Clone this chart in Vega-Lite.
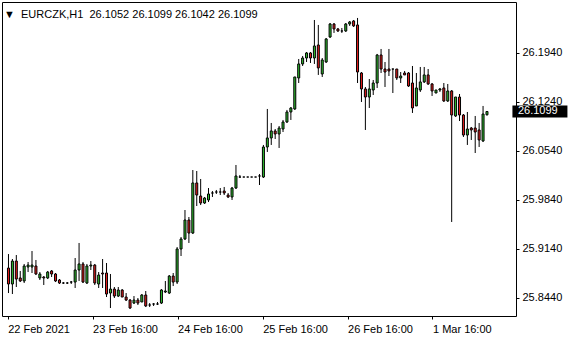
{
  "$schema": "https://vega.github.io/schema/vega-lite/v6.json",
  "width": 514,
  "height": 314,
  "autosize": {"type": "none"},
  "padding": {"left": 2, "top": 2, "right": 64, "bottom": 24},
  "background": "white",
  "config": {"view": {"stroke": "black", "strokeWidth": 1}, "font": "Liberation Sans"},
  "title": {"text": "▼\u00a0\u00a0EURCZK,H1\u00a0\u00a026.1052 26.1099 26.1042 26.1099", "anchor": "start", "frame": "group", "orient": "top", "baseline": "alphabetic", "offset": -15, "dx": 2, "dy": 12, "font": "Liberation Sans", "fontSize": 11, "fontWeight": "normal", "color": "black"},
  "datasets": {
    "bars": [
      {"i":0,"o":25.8863,"h":25.9063,"l":25.8506,"c":25.8635},
      {"i":1,"o":25.8635,"h":25.8992,"l":25.8492,"c":25.8963},
      {"i":2,"o":25.8963,"h":25.9049,"l":25.8592,"c":25.8706},
      {"i":3,"o":25.8721,"h":25.8821,"l":25.8663,"c":25.8678},
      {"i":4,"o":25.8678,"h":25.8921,"l":25.8649,"c":25.8892},
      {"i":5,"o":25.8878,"h":25.8949,"l":25.8806,"c":25.8906},
      {"i":6,"o":25.8878,"h":25.9106,"l":25.8792,"c":25.8906},
      {"i":7,"o":25.8892,"h":25.8978,"l":25.8763,"c":25.8778},
      {"i":8,"o":25.8721,"h":25.8806,"l":25.8692,"c":25.8778},
      {"i":9,"o":25.8735,"h":25.8749,"l":25.8621,"c":25.8721},
      {"i":10,"o":25.8721,"h":25.8821,"l":25.8706,"c":25.8806},
      {"i":11,"o":25.8821,"h":25.8835,"l":25.8735,"c":25.8778},
      {"i":12,"o":25.8778,"h":25.8792,"l":25.8663,"c":25.8678},
      {"i":13,"o":25.8692,"h":25.8706,"l":25.8635,"c":25.8649},
      {"i":14,"o":25.8649,"h":25.8663,"l":25.8635,"c":25.8649},
      {"i":15,"o":25.8649,"h":25.8663,"l":25.8635,"c":25.8649},
      {"i":16,"o":25.8663,"h":25.8678,"l":25.8635,"c":25.8663},
      {"i":17,"o":25.8663,"h":25.9006,"l":25.8578,"c":25.8835},
      {"i":18,"o":25.8835,"h":25.9221,"l":25.8678,"c":25.8921},
      {"i":19,"o":25.8921,"h":25.8949,"l":25.8649,"c":25.8663},
      {"i":20,"o":25.8649,"h":25.8921,"l":25.8635,"c":25.8892},
      {"i":21,"o":25.8892,"h":25.8963,"l":25.8835,"c":25.8906},
      {"i":22,"o":25.8906,"h":25.8921,"l":25.8621,"c":25.8649},
      {"i":23,"o":25.8635,"h":25.8806,"l":25.8578,"c":25.8763},
      {"i":24,"o":25.8792,"h":25.8992,"l":25.8578,"c":25.8778},
      {"i":25,"o":25.8792,"h":25.8935,"l":25.8449,"c":25.8492},
      {"i":26,"o":25.8506,"h":25.8778,"l":25.8292,"c":25.8563},
      {"i":27,"o":25.8563,"h":25.8592,"l":25.8435,"c":25.8463},
      {"i":28,"o":25.8463,"h":25.8592,"l":25.8449,"c":25.8549},
      {"i":29,"o":25.8549,"h":25.8563,"l":25.8449,"c":25.8449},
      {"i":30,"o":25.8449,"h":25.8506,"l":25.8392,"c":25.8406},
      {"i":31,"o":25.8406,"h":25.8421,"l":25.8278,"c":25.8292},
      {"i":32,"o":25.8363,"h":25.8463,"l":25.8349,"c":25.8406},
      {"i":33,"o":25.8406,"h":25.8435,"l":25.8335,"c":25.8363},
      {"i":34,"o":25.8378,"h":25.8492,"l":25.8378,"c":25.8478},
      {"i":35,"o":25.8478,"h":25.8535,"l":25.8306,"c":25.8321},
      {"i":36,"o":25.8335,"h":25.8363,"l":25.8306,"c":25.8335},
      {"i":37,"o":25.8349,"h":25.8363,"l":25.8321,"c":25.8349},
      {"i":38,"o":25.8349,"h":25.8378,"l":25.8335,"c":25.8349},
      {"i":39,"o":25.8363,"h":25.8563,"l":25.8349,"c":25.8549},
      {"i":40,"o":25.8521,"h":25.8678,"l":25.8506,"c":25.8535},
      {"i":41,"o":25.8506,"h":25.8763,"l":25.8492,"c":25.8749},
      {"i":42,"o":25.8749,"h":25.8792,"l":25.8606,"c":25.8663},
      {"i":43,"o":25.8663,"h":25.9163,"l":25.8635,"c":25.9135},
      {"i":44,"o":25.9135,"h":25.9306,"l":25.9035,"c":25.9278},
      {"i":45,"o":25.9278,"h":25.9692,"l":25.9263,"c":25.9549},
      {"i":46,"o":25.9549,"h":25.9592,"l":25.9221,"c":25.9363},
      {"i":47,"o":25.9363,"h":26.0263,"l":25.9349,"c":26.0078},
      {"i":48,"o":26.0078,"h":26.0249,"l":25.9749,"c":25.9906},
      {"i":49,"o":25.9892,"h":26.0135,"l":25.9763,"c":25.9792},
      {"i":50,"o":25.9792,"h":25.9878,"l":25.9778,"c":25.9863},
      {"i":51,"o":25.9835,"h":26.0006,"l":25.9806,"c":25.9921},
      {"i":52,"o":25.9935,"h":25.9963,"l":25.9878,"c":25.9935},
      {"i":53,"o":25.9949,"h":25.9978,"l":25.9921,"c":25.9949},
      {"i":54,"o":25.9949,"h":26.0006,"l":25.9906,"c":25.9949},
      {"i":55,"o":25.9963,"h":26.0021,"l":25.9906,"c":25.9935},
      {"i":56,"o":25.9906,"h":25.9935,"l":25.9863,"c":25.9878},
      {"i":57,"o":25.9878,"h":26.0021,"l":25.9835,"c":26.0006},
      {"i":58,"o":26.0006,"h":26.0335,"l":25.9992,"c":26.0178},
      {"i":59,"o":26.0163,"h":26.0192,"l":26.0149,"c":26.0163},
      {"i":60,"o":26.0163,"h":26.0163,"l":26.0163,"c":26.0163},
      {"i":61,"o":26.0163,"h":26.0163,"l":26.0163,"c":26.0163},
      {"i":62,"o":26.0163,"h":26.0163,"l":26.0163,"c":26.0163},
      {"i":63,"o":26.0163,"h":26.0163,"l":26.0163,"c":26.0163},
      {"i":64,"o":26.0178,"h":26.0206,"l":26.0049,"c":26.0178},
      {"i":65,"o":26.0163,"h":26.0621,"l":26.0149,"c":26.0592},
      {"i":66,"o":26.0592,"h":26.1135,"l":26.0521,"c":26.0721},
      {"i":67,"o":26.0721,"h":26.0935,"l":26.0621,"c":26.0821},
      {"i":68,"o":26.0821,"h":26.0849,"l":26.0706,"c":26.0778},
      {"i":69,"o":26.0778,"h":26.0892,"l":26.0578,"c":26.0863},
      {"i":70,"o":26.0849,"h":26.0978,"l":26.0806,"c":26.0949},
      {"i":71,"o":26.0949,"h":26.1121,"l":26.0935,"c":26.1092},
      {"i":72,"o":26.1092,"h":26.1163,"l":26.0978,"c":26.1149},
      {"i":73,"o":26.1135,"h":26.1592,"l":26.1121,"c":26.1592},
      {"i":74,"o":26.1578,"h":26.1849,"l":26.1506,"c":26.1778},
      {"i":75,"o":26.1778,"h":26.1892,"l":26.1749,"c":26.1863},
      {"i":76,"o":26.1863,"h":26.1949,"l":26.1806,"c":26.1935},
      {"i":77,"o":26.1935,"h":26.1949,"l":26.1792,"c":26.1863},
      {"i":78,"o":26.1863,"h":26.2406,"l":26.1778,"c":26.2035},
      {"i":79,"o":26.2049,"h":26.2335,"l":26.1621,"c":26.1721},
      {"i":80,"o":26.1635,"h":26.1863,"l":26.1592,"c":26.1835},
      {"i":81,"o":26.1806,"h":26.2149,"l":26.1792,"c":26.2135},
      {"i":82,"o":26.2163,"h":26.2363,"l":26.2149,"c":26.2349},
      {"i":83,"o":26.2349,"h":26.2363,"l":26.2221,"c":26.2278},
      {"i":84,"o":26.2278,"h":26.2292,"l":26.2235,"c":26.2249},
      {"i":85,"o":26.2249,"h":26.2292,"l":26.2221,"c":26.2249},
      {"i":86,"o":26.2249,"h":26.2363,"l":26.2235,"c":26.2349},
      {"i":87,"o":26.2349,"h":26.2392,"l":26.2321,"c":26.2378},
      {"i":88,"o":26.2392,"h":26.2406,"l":26.2306,"c":26.2321},
      {"i":89,"o":26.2335,"h":26.2435,"l":26.1506,"c":26.1663},
      {"i":90,"o":26.1649,"h":26.1663,"l":26.1235,"c":26.1421},
      {"i":91,"o":26.1421,"h":26.1449,"l":26.0835,"c":26.1306},
      {"i":92,"o":26.1306,"h":26.1563,"l":26.1149,"c":26.1421},
      {"i":93,"o":26.1406,"h":26.1549,"l":26.1335,"c":26.1506},
      {"i":94,"o":26.1506,"h":26.1921,"l":26.1435,"c":26.1906},
      {"i":95,"o":26.1906,"h":26.1992,"l":26.1649,"c":26.1706},
      {"i":96,"o":26.1706,"h":26.1806,"l":26.1449,"c":26.1663},
      {"i":97,"o":26.1706,"h":26.1992,"l":26.1606,"c":26.1678},
      {"i":98,"o":26.1706,"h":26.1706,"l":26.1363,"c":26.1706},
      {"i":99,"o":26.1706,"h":26.1706,"l":26.1549,"c":26.1578},
      {"i":100,"o":26.1578,"h":26.1663,"l":26.1506,"c":26.1606},
      {"i":101,"o":26.1649,"h":26.1678,"l":26.1621,"c":26.1621},
      {"i":102,"o":26.1649,"h":26.1663,"l":26.1449,"c":26.1463},
      {"i":103,"o":26.1506,"h":26.1749,"l":26.1078,"c":26.1149},
      {"i":104,"o":26.1178,"h":26.1649,"l":26.1178,"c":26.1435},
      {"i":105,"o":26.1406,"h":26.1735,"l":26.1378,"c":26.1521},
      {"i":106,"o":26.1521,"h":26.1735,"l":26.1506,"c":26.1621},
      {"i":107,"o":26.1621,"h":26.1706,"l":26.1478,"c":26.1492},
      {"i":108,"o":26.1492,"h":26.1506,"l":26.1321,"c":26.1392},
      {"i":109,"o":26.1363,"h":26.1406,"l":26.1363,"c":26.1406},
      {"i":110,"o":26.1406,"h":26.1435,"l":26.1378,"c":26.1421},
      {"i":111,"o":26.1435,"h":26.1506,"l":26.1235,"c":26.1249},
      {"i":112,"o":26.1249,"h":26.1492,"l":26.1235,"c":26.1392},
      {"i":113,"o":26.1392,"h":26.1406,"l":25.9521,"c":26.1049},
      {"i":114,"o":26.1035,"h":26.1306,"l":26.1021,"c":26.1306},
      {"i":115,"o":26.1306,"h":26.1349,"l":26.0963,"c":26.1049},
      {"i":116,"o":26.1049,"h":26.1063,"l":26.0735,"c":26.0763},
      {"i":117,"o":26.0763,"h":26.1092,"l":26.0621,"c":26.0849},
      {"i":118,"o":26.0863,"h":26.0878,"l":26.0692,"c":26.0835},
      {"i":119,"o":26.0863,"h":26.1035,"l":26.0506,"c":26.0806},
      {"i":120,"o":26.0835,"h":26.0935,"l":26.0592,"c":26.0692},
      {"i":121,"o":26.0678,"h":26.1178,"l":26.0663,"c":26.1063},
      {"i":122,"o":26.1052,"h":26.1099,"l":26.1042,"c":26.1099}
    ],
    "last": [{"price": 26.1099, "label": "26.1099"}]
  },
  "layer": [
    {
      "data": {"name": "bars"},
      "mark": {"type": "rule", "color": "black", "strokeWidth": 1},
      "encoding": {
        "x": {"field": "i", "type": "quantitative", "title": null,
          "scale": {"domain": [-0.375, 128.125], "nice": false, "zero": false},
          "axis": {"values": [-0.2, 21.45, 43.1, 64.8, 86.45, 108.1], "domain": false, "grid": false, "tickSize": 3, "tickColor": "black", "labelAlign": "left", "labelFlush": false, "labelOverlap": false, "labelPadding": 4, "labelFont": "Liberation Sans", "labelFontSize": 11, "labelColor": "black",
            "labelExpr": "datum.value < 10 ? '22 Feb 2021' : datum.value < 30 ? '23 Feb 16:00' : datum.value < 50 ? '24 Feb 16:00' : datum.value < 75 ? '25 Feb 16:00' : datum.value < 95 ? '26 Feb 16:00' : '1 Mar 16:00'"}},
        "y": {"field": "l", "type": "quantitative", "title": null,
          "scale": {"domain": [25.8178, 26.2663], "nice": false, "zero": false},
          "axis": {"orient": "right", "values": [25.844, 25.914, 25.984, 26.054, 26.124, 26.194], "format": ".4f", "domain": false, "grid": false, "tickSize": 3, "tickColor": "black", "labelPadding": 3, "labelOverlap": false, "labelFont": "Liberation Sans", "labelFontSize": 11, "labelColor": "black"}},
        "y2": {"field": "h"}
      }
    },
    {
      "data": {"name": "bars"},
      "mark": {"type": "bar", "size": 2, "stroke": "black", "strokeWidth": 1},
      "encoding": {
        "x": {"field": "i", "type": "quantitative", "title": null},
        "y": {"field": "o", "type": "quantitative", "title": null},
        "y2": {"field": "c"},
        "fill": {"condition": {"test": "datum.c >= datum.o", "value": "#30c030"}, "value": "#e41c1c"}
      }
    },
    {
      "data": {"name": "last"},
      "mark": {"type": "tick", "orient": "horizontal", "color": "black", "opacity": 1, "size": 55, "thickness": 12, "clip": false},
      "encoding": {
        "x": {"datum": 135.5, "title": null},
        "y": {"field": "price", "type": "quantitative", "title": null}
      }
    },
    {
      "data": {"name": "last"},
      "mark": {"type": "text", "align": "left", "baseline": "middle", "color": "white", "font": "Liberation Sans", "fontSize": 11, "clip": false},
      "encoding": {
        "x": {"datum": 129.9, "title": null},
        "y": {"field": "price", "type": "quantitative", "title": null},
        "text": {"field": "label"}
      }
    }
  ]
}
